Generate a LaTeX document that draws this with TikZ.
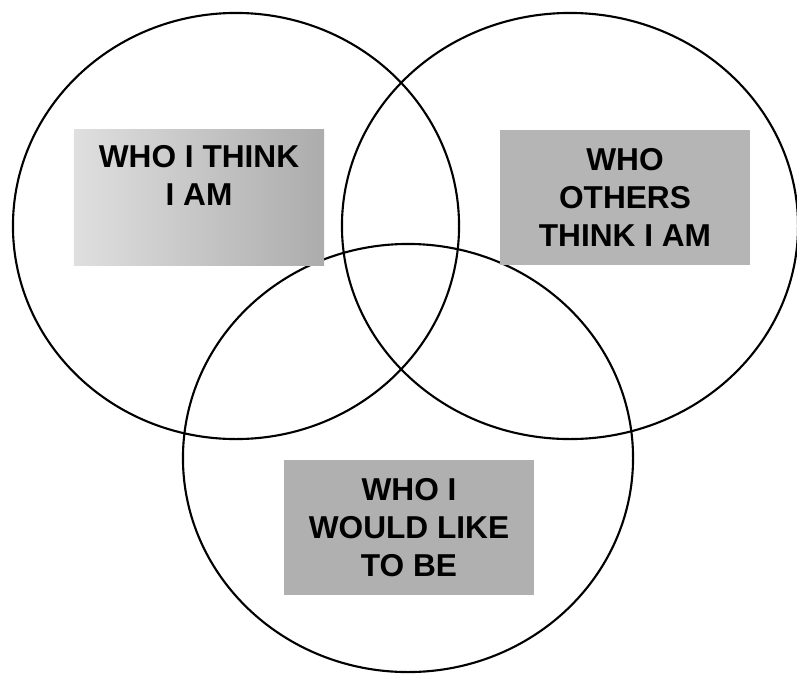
\documentclass[tikz,border=0pt]{standalone}
\usepackage{fontspec}
\setmainfont{Liberation Sans}
\usepackage{tikz}
\usetikzlibrary{positioning}
\tikzset{
  venn/.style={x=0.025cm, y=-0.025cm},
  ring/.style={draw=black, line width=1.5pt},
  tagbox/.style={fill=gray!58, inner sep=0pt, minimum width=6.25cm, minimum height=3.375cm},
  tagtext/.style={align=center, inner sep=0pt, font=\bfseries\fontsize{22.5}{27}\selectfont}
}

\begin{document}
\begin{tikzpicture}[venn]
\useasboundingbox (0,0) rectangle (797,673);
% the three circles
\draw[ring] (236,226) ellipse [x radius=5.575cm, y radius=5.325cm];
\draw[ring] (570,226) ellipse [x radius=5.7cm, y radius=5.325cm];
\draw[ring] (408,458) ellipse [x radius=5.625cm, y radius=5.35cm];
% labels
\node[tagbox, left color=gray!25, right color=gray!65] (thinkbox) at (199,197.5) {};
\node[tagtext] (think) at ([yshift=0.54cm]thinkbox.center) {WHO I THINK\\I AM};
\node[tagbox] (othersbox) at (625,197.5) {};
\node[tagtext] (others) at (othersbox.center) {WHO\\OTHERS\\THINK I AM};
\node[tagbox, fill=gray!62] (likebox) at (409,527.5) {};
\node[tagtext] (like) at (likebox.center) {WHO I\\WOULD LIKE\\TO BE};
\end{tikzpicture}
\end{document}
